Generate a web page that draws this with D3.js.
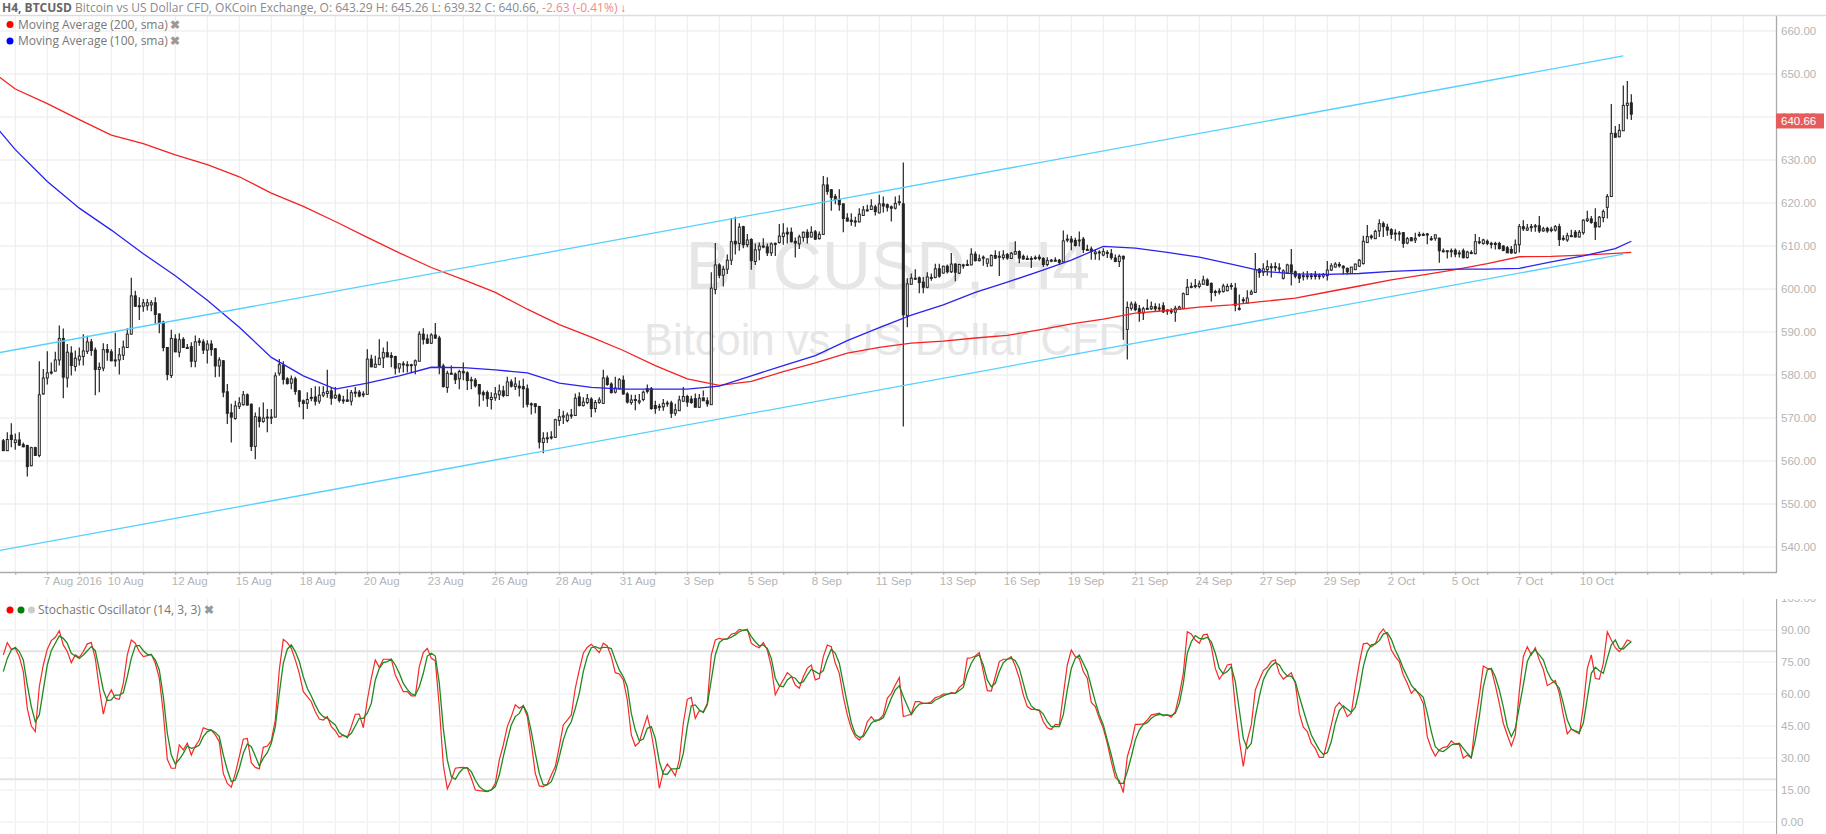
<!DOCTYPE html>
<html>
<head>
<meta charset="utf-8">
<script src="https://d3js.org/d3.v7.min.js"></script>
<style>
html, body { margin: 0; padding: 0; background: #fff; overflow: hidden; }
text { font-family: "Liberation Sans", sans-serif; }
.legend text { font-family: "Open Sans", sans-serif; }
.axis text { fill: #b4b4b4; font-size: 11.5px; }
.axis path, .axis line { stroke: #aaa; }
</style>
</head>
<body>
<div id="chart"></div>
<script>
// H4 candles, one entry per bar
const opens = [
564.7,562.4,566.0,564.3,564.9,563.8,563.6,558.9,
563.1,561.3,575.6,579.3,580.5,580.9,583.5,588.5,
579.3,585.1,582.0,583.5,584.3,585.5,587.7,585.8,
581.3,581.6,585.9,585.4,583.5,583.5,584.6,586.4,
589.5,598.4,596.1,596.0,596.1,596.3,596.8,594.2,
592.3,586.4,579.9,588.4,585.3,588.3,586.4,586.6,
583.2,587.9,587.7,585.8,587.2,586.1,582.1,583.3,
576.1,571.2,569.9,572.7,573.1,575.4,573.2,563.4,
570.2,569.2,570.2,570.2,570.2,580.4,582.2,579.1,
578.1,579.1,576.3,574.0,573.4,574.8,574.9,573.9,
575.3,575.7,576.3,574.7,575.3,574.2,574.2,573.9,
576.0,576.0,575.6,575.5,583.7,581.8,582.4,584.0,
585.2,584.5,584.3,581.6,582.6,582.4,582.4,582.3,
583.2,589.5,588.4,587.4,589.3,588.6,582.1,577.1,
580.4,580.2,579.1,580.8,580.5,578.9,578.8,577.8,
575.9,575.9,574.3,574.7,575.4,576.3,575.2,578.4,
577.3,577.4,577.3,576.8,573.3,573.3,572.7,564.3,
565.3,565.5,565.5,569.4,570.2,569.4,570.7,570.6,
574.9,572.9,573.6,574.4,572.2,573.6,573.4,579.3,
577.9,576.0,576.8,578.8,575.6,573.6,574.3,573.7,
574.3,576.8,576.8,572.9,572.7,572.6,573.5,573.5,
571.1,571.7,573.9,575.0,574.4,574.5,572.5,574.7,
574.0,573.1,599.9,605.6,603.2,604.6,606.7,611.1,
610.6,614.5,610.3,611.5,606.4,609.1,610.0,609.8,
608.4,610.5,610.8,612.2,613.2,613.2,611.1,610.5,
612.0,613.2,612.1,613.3,611.7,612.7,624.2,623.1,
621.5,620.8,619.8,616.5,616.0,615.8,615.6,617.1,
618.4,618.5,619.1,617.7,619.8,619.6,619.1,618.8,
620.3,619.8,593.8,601.1,602.4,602.6,601.6,600.4,
602.7,602.7,604.7,603.7,605.3,604.0,605.8,603.7,
605.6,605.7,605.6,608.1,606.6,607.4,606.0,605.4,
607.8,607.6,607.3,608.0,607.1,608.1,608.7,607.6,
607.1,607.1,607.2,607.4,607.1,605.7,606.6,606.7,
606.7,606.3,611.6,611.6,611.3,611.3,611.6,609.2,
609.3,608.2,608.6,607.9,608.5,608.2,607.2,606.4,
607.6,590.6,595.5,596.5,595.4,594.4,595.5,595.4,
595.9,595.4,596.1,594.9,594.8,594.6,595.3,595.5,
598.7,600.4,600.8,600.6,601.1,602.1,601.3,599.4,
599.5,599.4,599.6,600.8,600.2,595.5,597.5,596.7,
598.8,599.2,604.6,603.9,604.5,605.2,605.2,604.9,
602.5,603.7,605.6,604.0,603.3,603.1,603.0,603.1,
603.3,603.0,603.0,603.1,604.4,605.1,605.7,605.3,
604.8,603.6,604.5,605.3,605.9,610.8,612.3,611.7,
613.5,615.2,614.4,613.8,613.0,613.0,613.1,610.7,
611.9,611.4,612.7,612.7,612.8,611.7,611.8,611.8,
608.9,608.9,608.9,609.0,608.4,608.9,607.3,608.4,
608.2,611.0,610.6,611.1,610.6,610.6,610.6,610.0,
609.6,609.2,608.4,610.3,614.5,613.7,614.5,614.7,
614.7,613.5,614.1,613.6,613.7,614.5,611.8,611.4,
612.4,613.2,612.1,613.1,615.9,616.3,615.5,614.5,
616.6,619.0,621.5,636.2,635.4,636.8,642.7,643.29]
const highs = [
565.1,566.7,568.8,566.4,566.7,564.3,563.8,563.3,
563.3,583.2,581.4,585.5,582.9,585.4,591.5,590.8,
587.2,586.7,585.7,586.4,589.5,589.1,588.4,586.4,
582.9,587.4,587.2,586.0,589.8,586.3,588.0,590.9,
602.6,599.6,598.1,597.7,597.7,597.4,598.1,594.3,
592.6,586.4,590.5,589.5,589.7,588.8,587.2,587.6,
589.2,588.6,588.3,588.1,588.1,586.3,584.1,583.5,
577.9,573.3,574.0,574.8,576.3,575.7,573.4,571.3,
572.5,573.6,572.1,572.1,580.6,583.7,583.2,579.5,
579.9,579.6,576.5,574.3,576.0,577.0,577.4,577.3,
577.4,581.2,577.2,577.2,575.7,575.2,576.7,576.5,
577.2,576.5,576.2,586.0,584.7,584.5,588.3,586.4,
587.8,585.3,584.5,582.7,583.2,583.2,582.6,583.6,
590.2,590.9,589.5,589.7,592.1,589.1,582.6,581.0,
582.2,580.6,581.2,582.9,580.9,579.6,579.3,577.9,
576.4,576.4,576.0,577.2,577.8,577.5,579.6,579.0,
579.5,578.7,579.1,577.8,573.6,573.4,572.7,566.7,
566.7,566.9,569.8,572.1,571.7,571.3,572.1,575.7,
576.0,574.8,575.6,574.8,574.2,574.8,581.2,579.9,
578.3,579.6,579.3,579.9,576.0,575.4,575.4,575.6,
576.4,577.8,577.2,574.0,573.3,574.4,574.0,574.0,
573.3,575.2,577.2,575.4,575.2,575.7,575.6,576.4,
574.8,603.9,610.7,606.0,605.4,608.0,616.5,616.8,
615.3,614.7,612.8,611.8,610.6,610.8,611.8,610.6,
610.8,610.8,615.1,615.3,614.3,614.3,612.0,612.6,
613.4,613.9,614.6,613.7,613.4,626.3,626.0,623.2,
622.1,623.2,619.9,617.6,617.6,616.8,618.8,619.3,
619.6,620.9,619.6,621.9,621.5,619.9,619.4,621.5,
621.8,629.4,602.5,603.6,604.6,602.9,602.8,603.9,
603.6,605.9,605.9,605.4,605.7,608.4,606.0,605.9,
605.9,606.8,609.5,608.7,608.0,607.8,606.4,608.0,
609.0,608.8,609.0,608.4,608.6,611.1,609.0,608.0,
607.8,607.6,607.8,608.0,607.4,607.4,607.0,607.4,
607.0,613.6,612.7,612.3,611.9,613.4,612.1,610.3,
609.9,609.3,609.0,609.5,609.0,609.3,608.0,608.0,
607.8,597.1,597.1,597.1,596.3,595.9,597.6,597.1,
596.7,596.6,596.9,595.3,595.5,596.1,596.1,599.2,
602.3,601.5,602.3,602.0,603.1,602.5,601.5,599.8,
600.2,601.2,601.2,601.4,601.4,598.7,598.1,599.7,
599.8,608.4,604.9,606.0,606.7,606.0,606.2,606.0,
604.6,605.9,609.3,604.3,603.7,604.0,604.2,603.7,
604.2,603.6,603.7,606.5,606.0,606.2,606.3,605.5,
605.0,605.1,605.9,607.0,612.4,614.9,612.7,613.8,
616.2,615.7,615.2,614.1,613.9,613.5,613.2,612.1,
612.1,613.1,613.3,613.1,613.0,612.3,612.4,612.0,
609.4,609.0,609.4,609.4,609.0,609.4,608.9,609.0,
612.8,612.1,611.7,611.5,611.0,611.0,611.0,610.2,
610.0,610.0,611.5,615.1,616.0,615.1,615.1,615.1,
617.0,614.5,614.5,614.5,614.9,615.2,612.5,613.1,
613.8,613.7,613.7,616.2,618.2,617.0,618.8,617.0,
618.5,622.1,643.0,637.9,638.4,647.3,648.4,645.3]
const lows = [
562.4,562.4,563.2,562.6,563.5,563.2,556.4,558.8,
561.2,560.9,575.4,577.8,580.1,580.9,582.2,574.6,
577.1,579.9,580.9,582.2,582.2,584.9,584.5,575.3,
576.0,580.9,583.3,583.2,581.9,580.1,583.5,586.3,
589.4,595.9,592.8,594.7,595.0,594.8,591.9,589.7,
585.5,578.8,579.3,585.3,584.1,586.3,586.1,581.8,
581.8,586.8,584.9,582.7,584.5,579.5,579.6,574.8,
568.6,564.3,569.6,572.1,572.9,572.9,562.3,560.4,
567.8,568.9,566.7,568.6,570.2,579.8,577.8,577.8,
576.7,575.4,572.5,569.7,572.1,573.9,572.9,573.3,
574.8,574.7,573.1,574.4,573.6,573.3,573.7,572.9,
574.8,574.8,574.8,575.5,581.8,581.8,582.4,581.6,
584.1,581.8,580.1,580.5,580.6,580.6,580.4,580.2,
583.2,587.1,587.2,587.2,588.4,580.2,577.1,575.9,
580.1,577.9,576.7,578.8,576.5,576.7,577.1,572.7,
574.0,572.6,572.0,574.0,574.2,574.8,575.1,577.1,
576.5,575.0,572.4,572.5,570.8,571.1,562.9,561.8,
564.2,565.0,565.5,568.2,568.6,569.0,569.8,570.5,
572.7,572.7,573.2,570.2,571.3,573.3,573.4,577.5,
575.7,575.7,576.6,575.4,573.4,573.1,571.8,573.2,
573.9,575.7,571.9,571.0,571.7,571.7,572.6,570.0,
570.5,571.6,573.8,572.6,573.3,572.5,572.3,575.0,
572.6,573.2,598.8,602.5,600.6,603.5,605.6,608.0,
608.9,609.5,609.7,604.5,605.6,606.7,609.5,607.7,
607.7,607.7,610.6,610.3,610.6,610.8,607.3,609.3,
611.0,610.6,612.0,611.4,611.5,612.7,621.9,618.2,
619.7,618.2,613.2,615.7,614.7,614.5,615.5,617.0,
618.0,618.4,617.1,617.6,617.8,618.0,615.7,618.5,
619.4,568.0,591.1,601.0,602.1,599.0,599.0,600.2,
601.9,602.5,602.6,603.6,603.6,603.7,601.8,603.5,
604.7,605.4,605.5,606.4,606.4,605.4,605.1,605.3,
607.0,603.0,606.8,606.8,607.0,608.0,606.0,606.8,
606.8,604.9,606.8,606.6,605.1,605.3,606.2,606.4,
605.7,606.2,610.9,609.0,609.9,609.9,608.4,609.0,
606.8,606.8,606.7,607.6,607.2,606.8,606.2,605.1,
588.2,583.6,595.0,594.8,592.4,592.8,595.2,595.1,
594.9,594.8,594.4,594.0,594.2,592.4,595.1,595.3,
598.6,600.2,600.2,600.2,601.0,600.7,597.1,598.3,
598.7,599.2,599.5,599.8,594.8,595.0,596.7,596.8,
598.6,599.1,602.6,603.0,603.1,602.7,604.1,603.9,
602.2,603.6,600.8,602.5,601.4,602.0,602.2,602.2,
602.2,602.2,602.5,602.0,604.2,605.0,605.0,603.4,
603.4,603.8,604.4,605.1,605.7,610.7,611.5,611.6,
612.1,612.1,612.4,611.6,611.2,611.2,609.6,610.4,
611.3,610.7,612.1,612.3,610.4,611.2,611.2,606.1,
608.5,607.1,607.4,607.4,607.3,607.1,607.1,608.1,
608.1,610.4,610.3,610.2,609.4,609.2,609.2,608.8,
608.7,608.2,608.2,608.5,613.5,613.5,613.3,613.3,
613.0,613.3,613.1,613.2,613.4,610.0,611.2,611.0,
612.1,612.0,612.0,612.6,615.6,615.2,611.4,614.3,
615.5,616.4,621.4,635.1,635.3,636.8,639.5,639.3]
const closes = [
562.4,565.0,565.0,564.9,563.7,563.3,558.7,563.1,
561.3,575.4,579.3,580.5,580.7,583.5,588.5,579.5,
585.3,582.2,583.9,584.4,585.6,587.7,585.7,581.3,
581.8,585.9,585.3,583.3,583.5,584.7,586.5,589.5,
598.4,596.0,596.0,596.8,596.8,596.8,594.1,592.2,
586.4,580.1,588.5,585.4,588.2,586.4,586.4,583.2,
587.7,587.6,585.8,587.2,585.9,582.1,583.5,576.0,
571.1,570.2,572.8,573.5,575.4,573.0,563.4,570.3,
569.2,570.0,570.2,570.2,579.8,582.4,579.0,578.0,
579.1,576.2,573.9,573.4,574.3,574.8,573.9,575.3,
575.9,576.2,574.6,575.3,574.1,574.2,573.9,575.9,
576.0,575.1,575.6,583.7,581.9,582.5,583.9,585.2,
584.2,584.1,581.6,582.6,582.4,582.4,582.4,583.3,
589.5,588.3,587.4,589.3,588.6,581.9,577.3,580.4,
580.4,578.9,580.8,580.5,578.7,578.9,577.5,575.6,
575.4,574.5,574.8,575.6,576.3,575.2,578.4,577.4,
577.9,577.0,576.8,573.2,573.2,572.7,564.4,565.3,
565.4,565.6,569.6,570.3,570.5,570.7,570.7,574.6,
572.9,573.7,574.5,572.2,573.6,574.2,579.3,577.8,
575.9,577.0,578.9,575.6,573.7,574.2,574.2,574.0,
576.0,576.2,572.2,572.2,572.7,573.4,573.5,571.1,
571.9,574.2,575.0,573.7,573.6,572.5,574.6,574.0,
573.3,600.2,605.6,603.2,604.6,606.7,611.0,610.5,
614.4,610.3,611.4,606.6,609.1,610.0,609.9,608.4,
610.5,610.6,612.3,613.0,612.8,611.0,610.7,612.1,
613.2,612.0,613.2,611.6,612.7,624.2,622.7,621.3,
620.8,619.6,616.4,615.8,615.7,615.7,617.4,618.4,
618.4,619.3,618.0,619.8,619.3,619.0,618.8,619.9,
620.3,594.0,601.2,602.5,602.5,601.5,600.4,602.8,
602.7,604.7,603.0,605.3,604.0,605.8,603.9,605.7,
605.6,605.7,608.1,606.6,607.0,607.4,607.0,607.8,
607.2,607.6,607.9,607.2,608.3,608.7,607.2,607.0,
607.1,607.1,607.3,607.1,605.7,606.6,606.7,606.6,
606.2,611.2,611.5,610.9,610.1,611.4,609.2,609.2,
608.7,608.6,608.6,608.7,608.5,607.3,606.4,607.6,
607.0,595.7,596.5,595.2,594.4,595.4,595.5,595.9,
595.4,595.6,594.7,595.1,594.9,595.5,595.8,598.9,
600.4,600.6,600.8,601.2,602.1,600.9,599.2,599.3,
599.5,600.7,600.6,600.8,596.2,595.5,597.3,597.9,
599.3,604.5,603.8,604.7,605.2,605.2,605.0,604.9,
604.2,605.6,603.9,603.0,602.5,603.1,603.1,603.1,
602.9,603.1,603.4,604.4,605.4,605.8,605.4,604.9,
604.0,605.1,605.8,606.7,611.1,612.2,612.0,613.4,
615.2,614.5,613.7,612.7,613.0,613.0,610.6,611.7,
611.2,611.8,612.6,612.6,612.7,611.6,612.6,608.9,
608.9,608.9,608.7,608.1,608.4,607.3,608.6,608.5,
611.0,611.0,611.4,610.6,610.6,610.5,609.4,609.0,
608.4,608.4,610.3,614.5,614.0,614.2,614.5,614.7,
613.5,614.0,613.5,613.9,614.5,611.5,611.7,612.4,
612.2,612.1,613.2,616.0,616.3,615.5,614.4,616.7,
618.0,621.5,636.2,635.3,636.9,642.7,643.2,640.66]

// stochastic %K and %D, one entry per bar
const stochK = [
78.3,84.1,81.0,81.4,77.5,70.5,53.3,45.0,42.4,63.4,73.6,81.0,85.0,86.6,89.7,83.0,
79.9,74.7,78.3,77.2,79.9,83.5,84.1,76.7,62.7,50.6,58.4,61.9,58.0,57.5,65.0,78.3,
85.3,83.8,79.9,77.5,78.0,78.6,74.4,67.4,51.0,29.4,25.2,25.2,36.1,33.8,36.9,31.4,
35.6,38.4,44.2,43.4,43.1,40.8,37.7,22.8,18.1,16.3,22.8,30.6,38.8,39.2,27.8,25.6,
24.9,35.0,35.6,38.1,47.8,71.3,85.6,84.1,81.4,76.0,69.7,61.1,58.8,56.4,51.7,48.3,
47.8,49.4,44.7,42.8,39.7,40.8,39.5,44.7,50.5,50.6,44.2,57.2,67.4,76.0,72.5,76.3,
76.3,76.3,68.9,65.0,61.1,61.1,59.1,59.1,72.8,79.4,81.4,76.7,75.6,54.0,26.7,15.5,
19.7,25.2,25.5,25.6,25.2,20.5,15.0,14.7,14.5,14.2,15.0,18.1,29.1,36.1,44.7,49.4,
54.9,53.3,54.5,49.4,36.9,22.8,16.9,16.6,17.7,22.0,26.0,35.3,45.5,47.8,50.2,62.7,
71.3,79.1,81.9,83.3,81.4,
79.4,83.8,82.5,77.5,70.0,69.4,66.6,57.2,40.8,35.6,
37.4,43.9,49.7,41.6,30.6,15.8,23.6,27.2,24.7,21.7,
29.1,46.3,57.5,58.4,48.6,52.2,51.7,55.6,78.3,85.3,
86.1,85.6,85.8,88.0,88.5,90.3,89.7,90.3,83.8,82.5,
81.7,84.1,80.6,72.8,59.6,63.4,66.6,70.0,68.4,64.2,
62.7,68.1,72.0,73.6,66.6,67.4,77.5,83.0,82.2,74.4,
69.7,58.8,50.2,43.9,40.0,38.4,40.8,47.0,49.4,47.0,
48.1,50.2,58.0,60.3,64.2,67.7,49.4,49.9,50.6,56.4,
56.4,55.6,55.6,56.4,58.3,58.8,59.9,59.9,60.6,60.3,
63.1,64.7,76.7,77.0,77.8,79.4,70.5,61.6,61.4,68.1,
75.2,76.3,76.3,77.5,73.1,67.4,59.6,54.1,52.8,52.8,
52.2,47.0,44.2,43.4,45.8,45.5,59.6,73.6,80.6,77.5,
76.7,70.5,67.4,56.0,54.1,48.6,43.9,36.9,28.3,20.8,
19.4,13.8,30.6,36.9,45.8,45.8,46.0,47.8,50.2,50.6,
51.0,49.7,50.2,49.1,51.7,59.6,69.7,89.2,88.1,85.3,
83.8,
87.7,88.0,82.2,72.0,66.9,69.7,73.6,74.0,54.1,38.4,26.0,38.4,45.5,61.9,66.6,71.0,
72.5,75.2,76.0,69.7,67.0,68.4,70.0,65.0,51.0,
44.4,42.4,36.9,34.5,30.3,30.3,37.7,45.5,53.8,56.0,
53.8,49.4,51.0,63.4,74.4,83.5,83.8,82.2,83.5,88.1,
90.5,87.7,80.6,77.5,75.2,68.9,65.0,60.3,62.4,59.5,
55.6,40.0,34.5,30.9,33.8,35.0,35.3,38.0,36.4,36.4,
29.9,31.4,29.9,46.3,58.8,73.1,72.0,71.6,64.2,55.6,
46.3,40.8,35.6,40.8,61.1,77.5,82.2,78.3,81.7,76.0,
71.6,63.9,65.0,66.3,60.3,50.2,41.3,43.6,42.4,41.3,
54.0,72.0,78.3,67.4,66.9,74.4,89.1,85.3,81.7,79.9,
82.2,85.3,84.5]
const stochD = [
70.5,76.7,80.6,81.9,79.9,76.0,64.2,54.1,47.0,50.2,61.9,73.6,80.3,83.8,87.2,86.1,
83.8,79.1,77.8,76.7,78.3,80.3,82.2,80.3,71.3,61.9,56.9,57.2,59.5,59.5,60.6,68.1,
76.7,82.5,82.8,80.3,78.6,78.3,76.0,71.3,58.8,41.6,31.4,27.2,29.4,32.2,35.6,34.5,
35.0,36.1,40.0,42.4,43.1,42.0,40.0,31.4,24.4,18.9,19.7,25.2,32.2,36.6,35.3,30.9,
26.3,29.9,32.5,36.9,44.7,60.3,74.4,81.0,83.0,79.9,75.2,68.1,62.7,59.1,54.9,51.3,
49.4,48.6,47.0,45.5,41.9,40.5,40.0,41.6,45.0,48.6,48.6,51.0,55.6,66.6,72.0,74.7,
75.2,76.3,73.6,69.7,65.0,62.2,60.0,59.5,63.4,69.7,77.8,79.1,77.8,65.0,43.9,29.1,
21.3,20.0,23.1,25.2,25.5,23.6,19.7,16.6,15.0,14.5,15.0,16.6,22.0,30.6,38.4,45.5,
49.4,50.9,54.5,51.0,42.4,32.2,22.8,17.4,17.4,18.9,23.6,30.6,38.4,43.9,47.0,53.3,
60.3,70.5,77.5,81.7,82.2,
81.4,81.9,81.9,81.3,76.0,71.3,68.1,63.4,50.9,43.1,
38.0,38.9,43.9,44.7,39.2,28.3,22.5,22.4,24.9,24.9,
25.2,32.2,44.7,54.5,54.9,52.5,51.3,54.9,66.6,78.3,
84.1,85.6,85.8,86.6,87.7,89.2,89.9,90.0,86.9,84.5,
82.5,83.0,81.4,76.7,67.4,63.8,63.4,66.6,68.1,67.4,
65.0,65.8,68.9,71.6,70.5,69.4,71.0,76.7,81.0,79.1,
74.4,65.0,55.6,46.6,41.1,39.7,40.0,43.1,46.3,47.8,
47.8,48.9,53.3,58.0,61.9,63.9,58.8,54.5,50.3,53.3,
55.3,55.6,55.6,55.6,57.2,58.0,59.1,59.9,60.3,60.3,
61.6,63.1,69.7,74.4,77.5,78.3,73.6,66.6,63.4,65.0,
70.5,74.7,76.3,76.7,75.6,72.0,65.0,58.0,54.4,52.8,
52.5,50.6,47.0,44.7,44.7,44.7,50.2,61.9,72.0,76.7,
78.3,74.4,70.5,63.4,56.4,50.2,45.5,38.4,31.4,23.6,
18.1,18.1,23.6,30.6,38.4,43.1,45.8,46.6,48.6,49.9,
50.5,50.2,50.2,49.9,50.9,55.6,65.0,79.1,84.5,87.4,
86.1,
85.8,86.6,84.5,79.1,72.0,69.4,70.5,72.8,65.8,52.5,39.2,34.5,36.9,49.4,58.8,66.6,
70.5,73.1,74.7,73.6,70.5,68.4,68.4,65.8,58.8,
52.5,46.3,40.8,37.2,33.8,31.7,32.5,37.7,46.3,52.2,
54.4,52.8,51.4,53.8,61.9,72.8,79.9,83.0,83.5,85.0,
88.1,88.8,85.6,80.6,76.7,72.0,68.1,64.2,61.9,60.3,
58.4,50.9,42.4,35.3,33.4,33.0,34.5,36.1,36.6,36.9,
34.5,32.2,30.3,38.4,49.4,63.4,71.3,72.0,68.1,61.9,
54.0,44.7,40.0,43.9,54.0,64.2,75.2,79.1,80.6,78.3,
76.0,70.5,66.9,65.0,62.7,55.6,47.8,43.6,42.7,42.0,
46.3,58.0,69.7,72.5,70.9,69.7,76.7,83.0,85.3,81.4,
81.1,83.0,84.5]

// moving averages, read at these bar numbers
const maIndex = [-1,3,11,19,27,35,43,51,59,67,75,83,91,99,107,115,123,131,139,147,155,163,171,179,187,195,203,211,219,227,235,243,251,259,267,275,283,291,299,307,315,323,331,339,347,355,363,371,379,387,395,403,407]
const ma200 = [649.3,646.5,643.1,639.4,635.8,633.8,631.2,628.9,626.1,622.3,619.2,615.7,612.0,608.4,605.0,602.2,599.2,595.3,591.7,588.8,585.7,582.2,579.1,577.6,578.5,580.8,582.8,585.1,586.4,587.4,587.9,588.6,589.2,590.5,591.9,593.0,594.4,595.0,595.8,596.3,597.1,597.9,599.3,600.7,602.1,603.3,604.5,605.9,607.5,607.6,607.9,608.3,608.5]
const ma100 = [636.8,632.4,625.0,618.8,613.7,608.2,603.1,597.4,591.1,584.1,579.8,576.7,578.1,579.8,581.8,581.7,581.2,580.5,578.1,577.1,576.7,576.7,576.7,577.4,579.8,582.2,584.5,588.0,591.0,593.9,596.3,599.2,601.6,604.1,606.7,609.9,609.5,608.5,607.4,605.8,604.1,603.5,603.4,603.6,604.1,604.4,604.6,604.6,604.8,606.3,607.7,609.4,611.1]

// the two hand drawn channel lines, [bar, price] at each end
const channelBars = [-1,405]
const channelUpper = [585.2,654.2]
const channelLower = [539.2,608.1]

const gridBars = d3.range(3,440,8)
const labelBars = d3.range(11,396,16)
const timeLabels = ["7 Aug 2016","10 Aug","12 Aug","15 Aug","18 Aug","20 Aug","23 Aug","26 Aug","28 Aug","31 Aug","3 Sep","5 Sep","8 Sep","11 Sep","13 Sep","16 Sep","19 Sep","21 Sep","24 Sep","27 Sep","29 Sep","2 Oct","5 Oct","7 Oct","10 Oct"]
const priceTicks = d3.range(540,661,10)
const stochTicks = d3.range(0,106,15)
const stochBands = [20,80]

const width = 1826, height = 834
const plotRight = 1776
const mainTop = 15, mainBottom = 572
const stochTop = 599, stochBottom = 834

const x = d3.scaleLinear().domain([0,443]).range([3.3,3.3+4*443])
const y = d3.scaleLinear().domain([540,660]).range([547,31])
const yStoch = d3.scaleLinear().domain([0,90]).range([822,630])

const svg = d3.select("#chart").append("svg")
    .attr("width",width).attr("height",height)
    .style("display","block")

const defs = svg.append("defs")
defs.append("clipPath").attr("id","clipMain").append("rect")
    .attr("x",0).attr("y",mainTop).attr("width",plotRight).attr("height",mainBottom-mainTop)
defs.append("clipPath").attr("id","clipStoch").append("rect")
    .attr("x",0).attr("y",stochTop).attr("width",plotRight).attr("height",stochBottom-stochTop)
defs.append("clipPath").attr("id","clipStochAxis").append("rect")
    .attr("x",plotRight).attr("y",stochTop).attr("width",50).attr("height",stochBottom-stochTop)

// grid
const grid = svg.append("g").attr("stroke","#f0f0f0").attr("stroke-width",1.3)
grid.append("g").selectAll("line").data(gridBars).join("line")
    .attr("x1",d=>x(d)).attr("x2",d=>x(d)).attr("y1",mainTop).attr("y2",mainBottom)
grid.append("g").selectAll("line").data(gridBars).join("line")
    .attr("x1",d=>x(d)).attr("x2",d=>x(d)).attr("y1",stochTop).attr("y2",stochBottom)
grid.append("g").selectAll("line").data(priceTicks).join("line")
    .attr("x1",0).attr("x2",plotRight).attr("y1",d=>y(d)).attr("y2",d=>y(d))
svg.append("g").attr("stroke","#f5f5f5").attr("stroke-width",2)
    .selectAll("line").data(stochTicks.filter(d=>d<105)).join("line")
    .attr("x1",0).attr("x2",plotRight).attr("y1",d=>yStoch(d)).attr("y2",d=>yStoch(d))
svg.append("g").attr("stroke","#e3e3e3").attr("stroke-width",2)
    .selectAll("line").data(stochBands).join("line")
    .attr("x1",0).attr("x2",plotRight).attr("y1",d=>yStoch(d)).attr("y2",d=>yStoch(d))

// watermark
const mark = svg.append("g").attr("fill","#e6e6e6").attr("text-anchor","middle")
mark.append("text").attr("x",888).attr("y",289).attr("font-size",68).text("BTCUSD, H4")
mark.append("text").attr("x",887).attr("y",355).attr("font-size",43.5).text("Bitcoin vs US Dollar CFD")

// candles
const plot = svg.append("g").attr("clip-path","url(#clipMain)")
const candles = plot.append("g").selectAll("g").data(opens.map((o,i)=>i)).join("g")
candles.append("line")
    .attr("x1",i=>x(i)).attr("x2",i=>x(i))
    .attr("y1",i=>y(highs[i])).attr("y2",i=>y(lows[i]))
    .attr("stroke","#222").attr("stroke-width",1.2)
candles.append("rect")
    .attr("x",i=>x(i)-1).attr("width",2)
    .attr("y",i=>y(Math.max(opens[i],closes[i])))
    .attr("height",i=>Math.max(1,Math.abs(y(opens[i])-y(closes[i]))))
    .attr("fill",i=>closes[i]>=opens[i] ? "#fff" : "#222")
    .attr("stroke","#222").attr("stroke-width",1)

// moving averages and channel
const maLine = d3.line().x((d,i)=>x(maIndex[i])).y(d=>y(d))
plot.append("path").attr("d",maLine(ma200)).attr("fill","none").attr("stroke","#f52222").attr("stroke-width",1.3)
plot.append("path").attr("d",maLine(ma100)).attr("fill","none").attr("stroke","#2a22ee").attr("stroke-width",1.3)
const channelLine = d3.line().x((d,i)=>x(channelBars[i])).y(d=>y(d))
;[channelUpper,channelLower].forEach(c=>{
    plot.append("path").attr("d",channelLine(c)).attr("fill","none").attr("stroke","#55d0ff").attr("stroke-width",1.3)
})

// stochastic
const stochPlot = svg.append("g").attr("clip-path","url(#clipStoch)")
const stochLine = d3.line().x((d,i)=>x(i)).y(d=>yStoch(d))
stochPlot.append("path").attr("d",stochLine(stochK)).attr("fill","none").attr("stroke","#f52a2a").attr("stroke-width",1.2)
stochPlot.append("path").attr("d",stochLine(stochD)).attr("fill","none").attr("stroke","#1f8a1f").attr("stroke-width",1.3)

// axes
const priceAxis = d3.axisRight(y).tickValues(priceTicks).tickSize(0).tickPadding(5).tickFormat(d3.format(".2f"))
svg.append("g").attr("class","axis").attr("transform",`translate(${plotRight},0)`).call(priceAxis)
    .call(g=>g.select(".domain").attr("d",`M0.5,${mainTop}V${mainBottom}`).attr("stroke-width",1.3))

const stochAxis = d3.axisRight(yStoch).tickValues(stochTicks).tickSize(0).tickPadding(5).tickFormat(d3.format(".2f"))
svg.append("g").attr("clip-path","url(#clipStochAxis)")
    .append("g").attr("class","axis").attr("transform",`translate(${plotRight},0)`).call(stochAxis)
    .call(g=>g.select(".domain").attr("d",`M0.5,${stochTop}V${stochBottom}`).attr("stroke-width",1.3))

const labelOf = new Map(labelBars.map((b,i)=>[b,timeLabels[i]]))
const timeAxis = d3.axisBottom(x).tickValues(gridBars).tickSize(3).tickPadding(2).tickFormat(d=>labelOf.get(d)||"")
svg.append("g").attr("class","axis").attr("transform",`translate(0,${mainBottom})`).call(timeAxis)
    .call(g=>g.select(".domain").attr("d",`M0,0.5H${plotRight+1}`).attr("stroke-width",1.3))
    .call(g=>g.selectAll("text").attr("text-anchor","start").attr("dx",-4))

// last price tag, it sits just under the price itself
const lastPrice = closes[closes.length-1]
svg.append("rect").attr("x",plotRight).attr("y",y(lastPrice)-0.7).attr("width",48).attr("height",15).attr("fill","#e65c5c")
svg.append("text").attr("x",plotRight+5).attr("y",y(lastPrice)+11).attr("fill","#fff").attr("font-size",11.5).text(d3.format(".2f")(lastPrice))

// header and legends
const legend = svg.append("g").attr("class","legend")
legend.append("line").attr("x1",0).attr("x2",width).attr("y1",15.5).attr("y2",15.5).attr("stroke","#ddd").attr("stroke-width",1.3)
const head = legend.append("text").attr("x",2).attr("y",12).attr("font-size",12).attr("fill","#8a8a8a")
head.append("tspan").attr("font-weight",700).attr("fill","#666").text("H4, BTCUSD ")
head.append("tspan").text("Bitcoin vs US Dollar CFD, OKCoin Exchange, O: 643.29 H: 645.26 L: 639.32 C: 640.66, ")
head.append("tspan").attr("fill","#ee8a8a").text("-2.63 (-0.41%) ")
head.append("tspan").attr("fill","#e55a5a").attr("font-size",11.5).attr("font-weight",700).text("↓")

const legendRows = [
    {y:24.5,dots:[[10,"#f00"]],text:"Moving Average (200, sma)",tx:18,cx:170},
    {y:41,dots:[[10,"#00f"]],text:"Moving Average (100, sma)",tx:18,cx:170},
    {y:610,dots:[[10,"#f00"],[21,"#008000"],[31.5,"#ccc"]],text:"Stochastic Oscillator (14, 3, 3)",tx:38,cx:204}
]
legendRows.forEach(r=>{
    r.dots.forEach(d=>legend.append("circle").attr("cx",d[0]).attr("cy",r.y).attr("r",3.5).attr("fill",d[1]))
    legend.append("text").attr("x",r.tx).attr("y",r.y+4).attr("font-size",12).attr("fill","#777").text(r.text)
    legend.append("text").attr("x",r.cx).attr("y",r.y+4).attr("font-size",12).attr("font-weight",700).attr("fill","#999").text("✖")
})
</script>
</body>
</html>
